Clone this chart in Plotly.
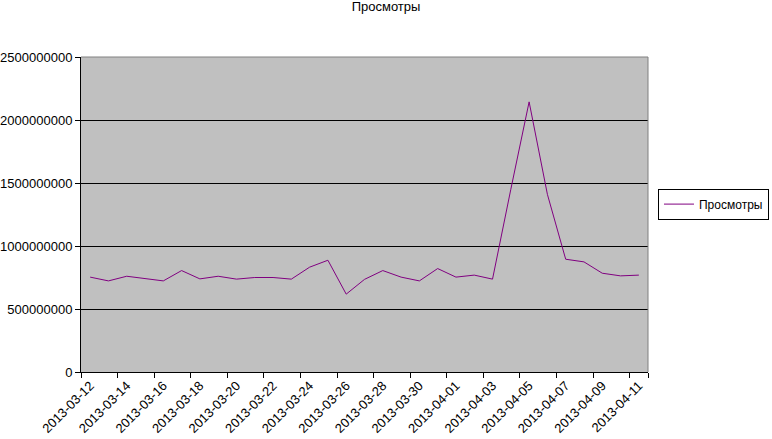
import plotly.graph_objects as go

dates = ["2013-03-12", "2013-03-13", "2013-03-14", "2013-03-15", "2013-03-16", "2013-03-17",
         "2013-03-18", "2013-03-19", "2013-03-20", "2013-03-21", "2013-03-22", "2013-03-23",
         "2013-03-24", "2013-03-25", "2013-03-26", "2013-03-27", "2013-03-28", "2013-03-29",
         "2013-03-30", "2013-03-31", "2013-04-01", "2013-04-02", "2013-04-03", "2013-04-04",
         "2013-04-05", "2013-04-06", "2013-04-07", "2013-04-08", "2013-04-09", "2013-04-10",
         "2013-04-11"]
views = [753000000, 723000000, 760000000, 742000000, 723000000, 805000000,
         739000000, 760000000, 737000000, 750000000, 750000000, 737000000,
         832000000, 887000000, 618000000, 735000000, 805000000, 753000000,
         723000000, 821000000, 753000000, 769000000, 737000000, 1450000000,
         2144000000, 1410000000, 895000000, 874000000, 784000000, 763000000,
         769000000]
tick_labels = dates[::2]
y_ticks = [0, 500000000, 1000000000, 1500000000, 2000000000, 2500000000]
series_name = "Просмотры"
title_text = "Просмотры"

FONT = "Liberation Sans, Arial, sans-serif"

fig = go.Figure()
fig.add_trace(go.Scatter(
    x=dates, y=views, mode="lines", name=series_name,
    line=dict(color="#800080", width=1),
))

fig.update_layout(
    width=772, height=439,
    margin=dict(l=81, r=124, t=57, b=67, autoexpand=False),
    paper_bgcolor="white",
    plot_bgcolor="#C0C0C0",
    font=dict(family=FONT, size=13, color="black"),
    title=dict(text=title_text, x=0.5, xref="container", xanchor="center",
               y=0.986, yref="container", yanchor="middle",
               font=dict(family=FONT, size=13, color="black")),
    showlegend=True,
    legend=dict(x=1.2134, y=0.533, xanchor="right", yanchor="middle",
                bordercolor="black", borderwidth=1, bgcolor="white",
                itemwidth=30,
                font=dict(family=FONT, size=12, color="black")),
    xaxis=dict(
        type="category", categoryorder="array", categoryarray=dates,
        range=[-0.5, len(dates) - 0.5],
        tickmode="array", tickvals=tick_labels, ticktext=tick_labels,
        tickson="boundaries", ticks="outside", ticklen=5, tickcolor="black",
        tickangle=-45, showgrid=False, showline=True, linecolor="black",
        linewidth=1, zeroline=False,
        tickfont=dict(family=FONT, size=13, color="black"),
    ),
    yaxis=dict(
        range=[0, 2500000000], tickmode="array", tickvals=y_ticks,
        ticktext=[str(v) for v in y_ticks],
        ticks="outside", ticklen=5, tickcolor="black",
        showgrid=True, gridcolor="black", gridwidth=1,
        showline=True, linecolor="black", linewidth=1, zeroline=False,
        tickfont=dict(family=FONT, size=13, color="black"),
    ),
)

# top and right plot-area border (gray)
fig.add_shape(type="line", xref="paper", yref="paper", x0=0, x1=1, y0=1, y1=1,
              line=dict(color="#808080", width=1), layer="above")
fig.add_shape(type="line", xref="paper", yref="paper", x0=1, x1=1, y0=0, y1=1,
              line=dict(color="#808080", width=1), layer="above")

fig.write_html("out.html",
               config={"displayModeBar": False},
               post_script="document.body.style.margin='0';document.body.style.padding='0';")
